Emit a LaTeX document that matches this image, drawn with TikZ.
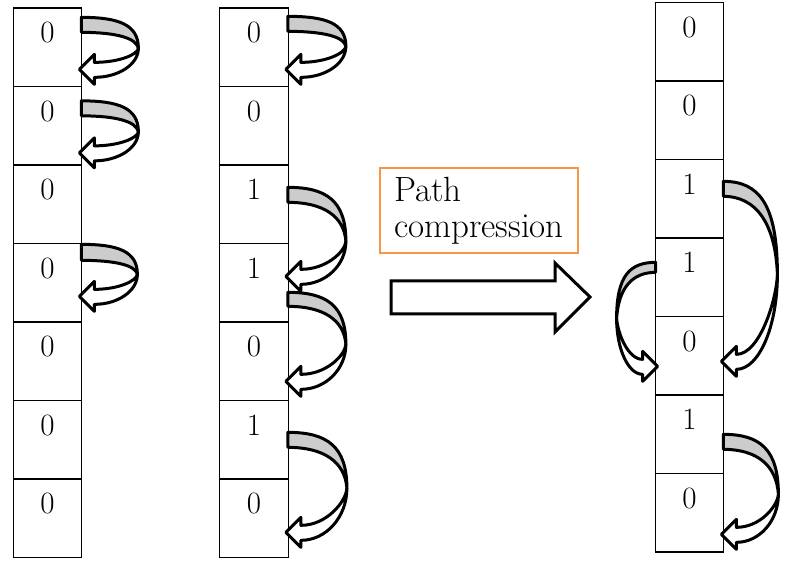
\documentclass[tikz,border=0pt]{standalone}
\usepackage{tikz}

\definecolor{boxorange}{RGB}{247,150,70}

\tikzset{
  cell/.style={draw, line width=1.3pt, minimum width=68.5pt, minimum height=78.5pt,
    inner sep=0pt, text height=35pt, text depth=43.5pt},
  curl/.style={draw=black, line width=3pt, line join=round}
}

% curved ribbon arrow: [xscale] anchor, y offset, band, reach, bend, drop
\newcommand{\curl}[7][1]{%
  \pgfmathsetmacro{\ya}{#3}
  \pgfmathsetmacro{\yb}{#3+#4}
  \pgfmathsetmacro{\yg}{#3+#6+2}
  \pgfmathsetmacro{\yt}{#3+#7}
  \pgfmathsetmacro{\rw}{#5}
  \begin{scope}[shift={(#2)}, xscale=#1]
    \draw[curl, fill=white] (\rw,\yg) .. controls (\rw,\yg+0.55*\yt+4.4-0.55*\yg) and (12+0.55*\rw-6.6,\yt+8) .. (12,\yt+8)
      -- (12,\yt+15) -- (-3,\yt) -- (12,\yt-15) -- (12,\yt-7)
      .. controls (6+0.55*\rw,\yt-7) and (\rw-1,\yg+0.3*\yt-0.3*\yg) .. (\rw,\yg) -- cycle;
    \draw[curl, fill=black!20] (-1,\ya) .. controls (0.65*\rw,\ya) and (\rw,\ya+0.25*#6) .. (\rw,\yg)
      .. controls (\rw-2,\yb+0.35*\yg-0.35*\yb) and (0.6*\rw,\yb) .. (-1,\yb) -- cycle;
  \end{scope}}

\begin{document}
\begin{tikzpicture}[x=1pt, y=-1pt, font=\fontsize{31}{37}\selectfont]
  \useasboundingbox (0,0) rectangle (788,561);

  % first column
  \node[cell] (a1) at (47.5,47.25) {0};
  \node[cell] (a2) at (47.5,125.75) {0};
  \node[cell] (a3) at (47.5,204.25) {0};
  \node[cell] (a4) at (47.5,282.75) {0};
  \node[cell] (a5) at (47.5,361.25) {0};
  \node[cell] (a6) at (47.5,439.75) {0};
  \node[cell] (a7) at (47.5,518.25) {0};

  % second column
  \node[cell] (b1) at (254,47.25) {0};
  \node[cell] (b2) at (254,125.75) {0};
  \node[cell] (b3) at (254,204.25) {1};
  \node[cell] (b4) at (254,282.75) {1};
  \node[cell] (b5) at (254,361.25) {0};
  \node[cell] (b6) at (254,439.75) {1};
  \node[cell] (b7) at (254,518.25) {0};

  % third column
  \node[cell] (c1) at (689.5,41.75) {0};
  \node[cell] (c2) at (689.5,120.25) {0};
  \node[cell] (c3) at (689.5,198.75) {1};
  \node[cell] (c4) at (689.5,277.25) {1};
  \node[cell] (c5) at (689.5,355.75) {0};
  \node[cell] (c6) at (689.5,434.25) {1};
  \node[cell] (c7) at (689.5,512.75) {0};

  \curl{a1.north east}{10}{15}{56}{29}{52}
  \curl{a2.north east}{15}{15}{56}{29}{52}
  \curl{a4.north east}{1.5}{16}{55}{28}{52}

  \curl{b1.north east}{9}{15}{57}{28}{53}
  \curl{b3.north east}{23}{15}{57}{52}{89}
  \curl{b4.north east}{49.5}{14}{57}{50}{89}
  \curl{b6.north east}{32.5}{15}{58}{54}{100}

  \curl{c3.north east}{22.5}{15}{53}{91}{180}
  \curl[-1]{c4.north west}{25}{10}{38}{54}{104}
  \curl{c6.north east}{40}{15}{54}{58}{100}

  \node[draw=boxorange, line width=2.2pt, minimum width=198pt, minimum height=85pt,
    align=left, inner sep=4pt, font=\fontsize{35}{36}\selectfont] (label) at (479,210.5) {Path\\compression};

  \draw[line width=3pt, line join=miter] (391,281) -- (555,281) -- (555,263) -- (590,297)
    -- (555,332) -- (555,314) -- (391,314) -- cycle;
\end{tikzpicture}
\end{document}
